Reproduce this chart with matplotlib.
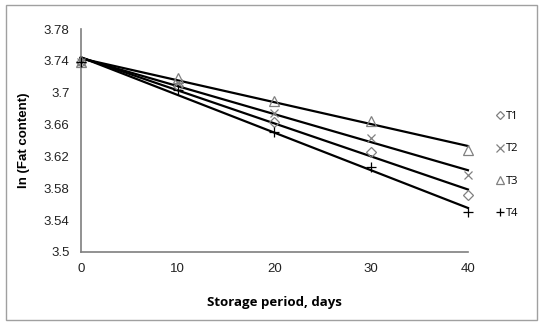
import numpy as np
import matplotlib.pyplot as plt
from matplotlib.patches import Rectangle

# storage days and ln(fat content) for each treatment
days = [0, 10, 20, 30, 40]
t1 = [3.7385, 3.708, 3.663, 3.626, 3.572]
t2 = [3.7385, 3.712, 3.675, 3.643, 3.597]
t3 = [3.7385, 3.719, 3.690, 3.665, 3.628]
t4 = [3.7385, 3.703, 3.651, 3.607, 3.550]

labels = ["T1", "T2", "T3", "T4"]
series = [t1, t2, t3, t4]
markers = ["D", "x", "^", "+"]
msizes = [5, 6, 7, 7]
mcolors = ["#808080", "#808080", "#808080", "black"]

fig = plt.figure(figsize=(5.46, 3.26), dpi=100)
ax = fig.add_axes([0.148, 0.227, 0.709, 0.684])

# chart area border
fig.patches.append(Rectangle((6 / 546, 6 / 326), 531 / 546, 315 / 326,
                             transform=fig.transFigure, fill=False,
                             edgecolor="#a0a0a0", linewidth=1.0))

x = np.array(days)
for lab, y, m, ms, c in zip(labels, series, markers, msizes, mcolors):
    # linear trend line
    k, b = np.polyfit(x, y, 1)
    ax.plot([0, 40], [b, b + k * 40], color="black", lw=1.6, zorder=2)
    if m in ("x", "+"):
        ax.plot(x, y, linestyle="none", marker=m, ms=ms, color=c,
                mew=0.9, label=lab, zorder=3)
    else:
        ax.plot(x, y, linestyle="none", marker=m, ms=ms, mfc="none",
                mec=c, mew=0.9, label=lab, zorder=3)

ax.set_xlim(0, 40)
ax.set_ylim(3.5, 3.78)
ax.set_xticks([0, 10, 20, 30, 40])
ax.set_yticks([3.5, 3.54, 3.58, 3.62, 3.66, 3.7, 3.74, 3.78])
ax.set_yticklabels(["3.5", "3.54", "3.58", "3.62", "3.66", "3.7", "3.74", "3.78"])
ax.tick_params(length=0, labelsize=9.5, labelcolor="#222222", pad=8)
for t in ax.get_xticklabels() + ax.get_yticklabels():
    t.set_fontfamily("Liberation Sans")

for s in ("top", "right"):
    ax.spines[s].set_visible(False)
for s in ("left", "bottom"):
    ax.spines[s].set_color("#7f7f7f")
    ax.spines[s].set_linewidth(1.2)
for ln in ax.lines:
    ln.set_clip_on(False)

ax.set_ylabel("ln (Fat content)", fontsize=9.5, fontweight="bold",
              family="Liberation Sans", labelpad=10)
ax.set_xlabel("Storage period, days", fontsize=9.5, fontweight="bold",
              family="Open Sans", labelpad=15)

leg = ax.legend(loc="center left", bbox_to_anchor=(1.05, 0.39), frameon=False,
                handlelength=0.5, handletextpad=0.3, markerscale=0.85,
                labelspacing=1.9, prop={"family": "Open Sans", "size": 8})

fig.savefig("out.png", dpi=100)
